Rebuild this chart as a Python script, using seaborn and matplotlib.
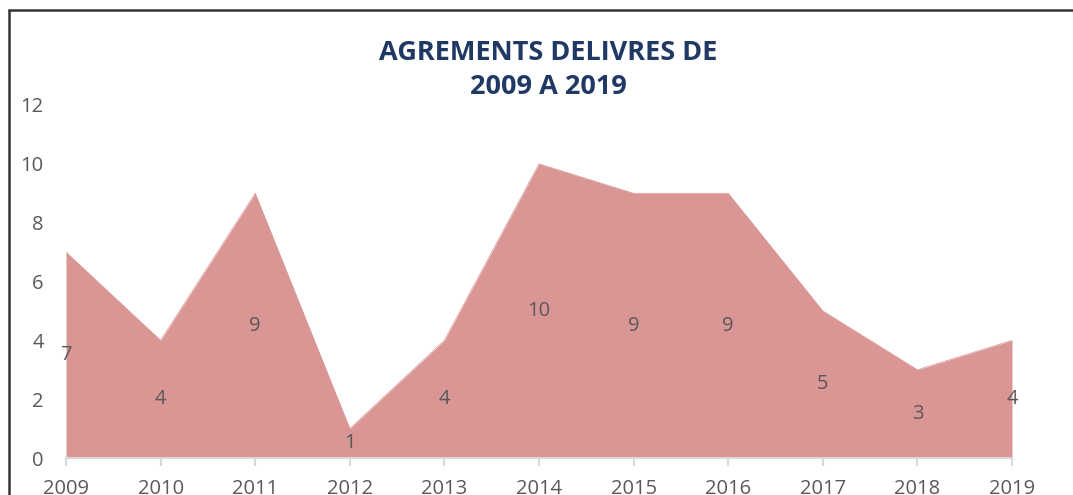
import matplotlib
matplotlib.use("Agg")
import matplotlib.pyplot as plt
import seaborn as sns
import pandas as pd
from matplotlib.lines import Line2D

# ============================================
# Data
# ============================================
years = [2009, 2010, 2011, 2012, 2013, 2014, 2015, 2016, 2017, 2018, 2019]
agrements = [7, 4, 9, 1, 4, 10, 9, 9, 5, 3, 4]
title = "AGREMENTS DELIVRES DE\n2009 A 2019"

df = pd.DataFrame({"annee": years, "agrements": agrements})

# ============================================
# Style
# ============================================
sns.set_style("white")
plt.rcParams["font.family"] = ["Open Sans", "DejaVu Sans"]

FILL = "#D99694"
GREY = "#595959"
NAVY = "#1F3864"

fig = plt.figure(figsize=(10.73, 4.95), dpi=100)
ax = fig.add_axes([66 / 1073, 1 - 458 / 495, (1012 - 66) / 1073, (458 - 105) / 495])

# Area chart
ax.fill_between(df["annee"], df["agrements"], 0, color=FILL, linewidth=0)
sns.lineplot(data=df, x="annee", y="agrements", ax=ax, color=FILL, linewidth=0.5)

# Data labels at middle of the area
for x, v in zip(df["annee"], df["agrements"]):
    ax.text(x, v / 2, str(v), ha="center", va="center", fontsize=14.5, color=GREY)

ax.set_xlim(years[0], years[-1])
ax.set_ylim(0, 12)
ax.set_xticks(years)
ax.set_yticks(range(0, 13, 2))
ax.tick_params(axis="x", colors="#D9D9D9", length=6, width=1.5, labelcolor=GREY,
               labelsize=14.5, pad=9, direction="out", bottom=True)
ax.tick_params(axis="y", length=0, labelcolor=GREY, labelsize=14.5, pad=16)
ax.set_xlabel("")
ax.set_ylabel("")

for s in ["top", "right", "left"]:
    ax.spines[s].set_visible(False)
ax.spines["bottom"].set_color("#D9D9D9")
ax.spines["bottom"].set_linewidth(1.5)

fig.text(548 / 1073, 1 - 70 / 495, title, ha="center", va="center",
         fontsize=19.5, fontweight="bold", color=NAVY, linespacing=1.45)

# Frame lines (top and left) of the chart area
fig.add_artist(Line2D([9 / 1073, 1], [1 - 10 / 495, 1 - 10 / 495],
                      transform=fig.transFigure, color="#333333", linewidth=1.8))
fig.add_artist(Line2D([9 / 1073, 9 / 1073], [0, 1 - 10 / 495],
                      transform=fig.transFigure, color="#333333", linewidth=1.8))

fig.savefig("out.png", dpi=100)
